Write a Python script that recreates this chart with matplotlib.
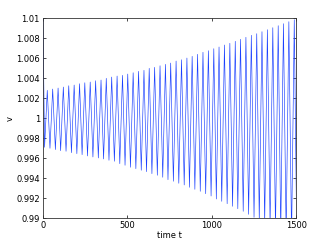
import numpy as np
import matplotlib
matplotlib.use("Agg")
import matplotlib.pyplot as plt

# Extrema of the oscillation
peak_t = [27, 59, 91, 122, 154, 186, 218, 249, 281, 313, 345, 376, 408, 440, 472, 503,
          535, 567, 599, 630, 662, 694, 726, 757, 789, 821, 853, 884, 916, 948, 980, 1012,
          1043, 1075, 1107, 1139, 1170, 1202, 1234, 1266, 1297, 1329, 1361, 1393, 1424, 1456, 1488]
peak_v = [1.00280, 1.00293, 1.00303, 1.00313, 1.00326, 1.00333, 1.00346, 1.00356,
          1.00363, 1.00376, 1.00383, 1.00400, 1.00413, 1.00423, 1.00430, 1.00443,
          1.00456, 1.00470, 1.00480, 1.00500, 1.00510, 1.00526, 1.00540, 1.00553,
          1.00573, 1.00586, 1.00603, 1.00620, 1.00640, 1.00660, 1.00676, 1.00696,
          1.00713, 1.00733, 1.00750, 1.00770, 1.00790, 1.00810, 1.00830, 1.00846,
          1.00866, 1.00886, 1.00906, 1.00926, 1.00946, 1.00966, 1.00986]

trough_t = [11, 43, 75, 106, 138, 170, 202, 233, 265, 297, 329, 360, 392, 424, 456, 487,
            519, 551, 583, 614, 646, 678, 710, 741, 773, 805, 837, 868, 900, 932, 964, 996,
            1027, 1059, 1091, 1123, 1154, 1186, 1218, 1250, 1281, 1313, 1345, 1377, 1408, 1440, 1472]
trough_v = [0.99710, 0.99700, 0.99687, 0.99676, 0.99670, 0.99656, 0.99646, 0.99636,
            0.99623, 0.99613, 0.99603, 0.99593, 0.99580, 0.99570, 0.99546, 0.99530,
            0.99510, 0.99496, 0.99480, 0.99466, 0.99446, 0.99430, 0.99410, 0.99386,
            0.99370, 0.99350, 0.99333, 0.99310, 0.99290, 0.99270, 0.99246, 0.99223,
            0.99193, 0.99170, 0.99146, 0.99120, 0.99096, 0.99070, 0.99040, 0.99010,
            0.98980, 0.98950, 0.98920, 0.98890, 0.98860, 0.98830, 0.98800]

start_point = (0, 1.012)
end_point = (1500, 0.992)

# Put the trajectory together: start, then trough/peak alternating, then end
t = [start_point[0]]
v = [start_point[1]]
for tt, tv, pt, pv in zip(trough_t, trough_v, peak_t, peak_v):
    t += [tt, pt]
    v += [tv, pv]
t.append(end_point[0])
v.append(end_point[1])

yticks = [0.99, 0.992, 0.994, 0.996, 0.998, 1.0, 1.002, 1.004, 1.006, 1.008, 1.01]
ytick_labels = ["0.99", "0.992", "0.994", "0.996", "0.998", "1",
                "1.002", "1.004", "1.006", "1.008", "1.01"]
xticks = [0, 500, 1000, 1500]

fig = plt.figure(figsize=(3.27, 2.46), dpi=100)
ax = fig.add_axes([0.1306, 0.1126, 0.7755, 0.813])
ax.plot(t, v, color=(0.1, 0.25, 1.0), linewidth=0.45)

ax.set_xlim(0, 1500)
ax.set_ylim(0.99, 1.01)
ax.set_xticks(xticks)
ax.set_xticklabels([str(x) for x in xticks])
ax.set_yticks(yticks)
ax.set_yticklabels(ytick_labels)
ax.tick_params(direction="in", length=2.5, width=0.5, labelsize=6,
               top=True, right=True, pad=2, colors="black")
for s in ax.spines.values():
    s.set_linewidth(0.6)
    s.set_color("#333333")

ax.set_xlabel("time t", fontsize=6, labelpad=1)
ax.set_ylabel("v", fontsize=6, labelpad=1)

fig.savefig("out.png", dpi=100)
